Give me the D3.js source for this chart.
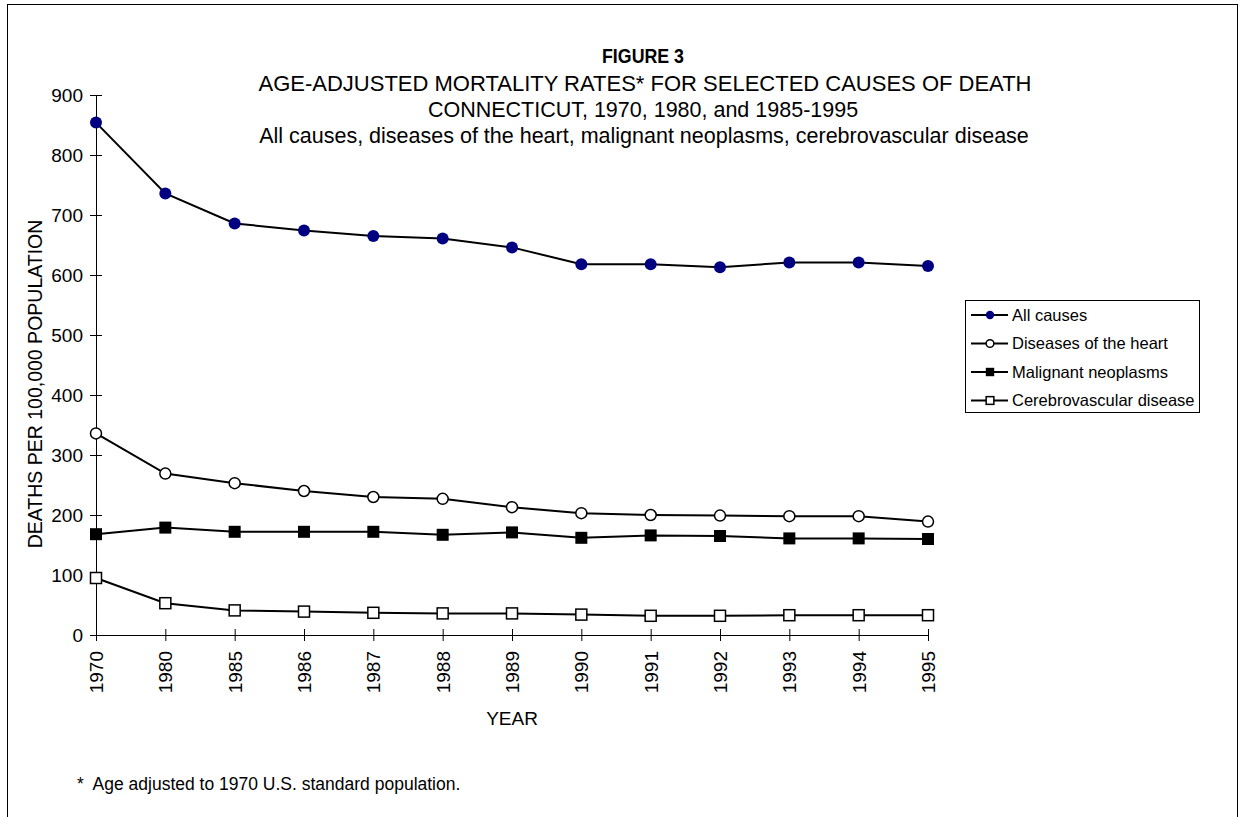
<!DOCTYPE html>
<html>
<head>
<meta charset="utf-8">
<script src="https://cdn.jsdelivr.net/npm/d3@7"></script>
<style>
  body { margin: 0; background: #fff; }
  svg text { font-family: "Liberation Sans", Arial, sans-serif; fill: #000; }
</style>
</head>
<body>
<svg id="chart"></svg>
<script>
var years = ["1970", "1980", "1985", "1986", "1987", "1988", "1989", "1990", "1991", "1992", "1993", "1994", "1995"];
var allCauses = [854, 736, 686, 674, 665, 661, 646, 618, 618, 613, 621, 621, 615];
var heart = [336, 269, 253, 240, 230, 227, 213, 203, 200, 199, 198, 198, 189];
var neoplasms = [168, 179, 172, 172, 172, 167, 171, 162, 166, 165, 161, 161, 160];
var cerebro = [95, 53, 41, 39, 37, 36, 36, 34, 32, 32, 33, 33, 33];
var seriesNames = ["All causes", "Diseases of the heart", "Malignant neoplasms", "Cerebrovascular disease"];
var yTicks = [0, 100, 200, 300, 400, 500, 600, 700, 800, 900];

var width = 1241, height = 817;
var margin = {top: 95, left: 96, right: 313, bottom: 182};

var svg = d3.select("#chart").attr("width", width).attr("height", height);

// page frame
svg.append("rect")
    .attr("x", 7.5).attr("y", 4.5)
    .attr("width", 1230).attr("height", 830)
    .attr("fill", "none").attr("stroke", "#000").attr("stroke-width", 1);

var x = d3.scalePoint().domain(years).range([margin.left, width - margin.right]);
var y = d3.scaleLinear().domain([0, 900]).range([height - margin.bottom, margin.top]);

// titles
var title = svg.append("g").attr("text-anchor", "middle");
title.append("text").attr("x", 643).attr("y", 63)
    .style("font-size", "21px").style("font-weight", "bold")
    .attr("textLength", 82).attr("lengthAdjust", "spacingAndGlyphs").text("FIGURE 3");
title.append("text").attr("x", 645).attr("y", 91)
    .style("font-size", "22px")
    .text("AGE-ADJUSTED MORTALITY RATES* FOR SELECTED CAUSES OF DEATH");
title.append("text").attr("x", 643).attr("y", 117)
    .style("font-size", "21.5px")
    .text("CONNECTICUT, 1970, 1980, and 1985-1995");
title.append("text").attr("x", 644).attr("y", 143)
    .style("font-size", "21.5px")
    .text("All causes, diseases of the heart, malignant neoplasms, cerebrovascular disease");

// axes
var yAxis = svg.append("g")
    .attr("transform", "translate(" + margin.left + ",0)")
    .call(d3.axisLeft(y).tickValues(yTicks).tickSizeInner(6).tickSizeOuter(0).tickPadding(7));
yAxis.selectAll(".tick line").attr("x1", 6);
yAxis.selectAll("text").style("font-size", "19px").attr("font-family", null);

var xAxis = svg.append("g")
    .attr("transform", "translate(0," + y(0) + ")")
    .call(d3.axisBottom(x).tickSizeInner(6).tickSizeOuter(0));
xAxis.selectAll(".tick line").attr("y1", -6);
xAxis.selectAll("text")
    .style("font-size", "19px").attr("font-family", null)
    .attr("text-anchor", "end")
    .attr("transform", "rotate(-90)")
    .attr("x", -16).attr("y", 0).attr("dy", "0.35em");
svg.selectAll(".domain").attr("stroke", "#000");

svg.append("text")
    .attr("transform", "translate(42," + 384 + ") rotate(-90)")
    .attr("text-anchor", "middle").style("font-size", "19.5px")
    .text("DEATHS PER 100,000 POPULATION");
svg.append("text")
    .attr("x", (x.range()[0] + x.range()[1]) / 2).attr("y", 725)
    .attr("text-anchor", "middle").style("font-size", "19px").text("YEAR");

svg.append("text").attr("x", 77).attr("y", 790)
    .style("font-size", "17.5px").style("white-space", "pre")
    .text("*  Age adjusted to 1970 U.S. standard population.");

// series
var series = [
  {name: seriesNames[0], values: allCauses, shape: "circle", fill: "#000080", size: 6},
  {name: seriesNames[1], values: heart, shape: "circle", fill: "#fff", size: 5.5},
  {name: seriesNames[2], values: neoplasms, shape: "square", fill: "#000", size: 12},
  {name: seriesNames[3], values: cerebro, shape: "square", fill: "#fff", size: 11}
];

var line = d3.line()
    .x(function(d, i) { return x(years[i]); })
    .y(function(d) { return y(d); });

function marker(g, s, cx, cy, scale) {
  if (s.shape === "circle") {
    g.append("circle").attr("cx", cx).attr("cy", cy).attr("r", s.size * scale)
      .attr("fill", s.fill)
      .attr("stroke", s.fill === "#fff" ? "#000" : s.fill)
      .attr("stroke-width", s.fill === "#fff" ? 1.5 : 0);
  } else {
    var w = s.size * scale;
    g.append("rect").attr("x", cx - w / 2).attr("y", cy - w / 2)
      .attr("width", w).attr("height", w)
      .attr("fill", s.fill).attr("stroke", "#000")
      .attr("stroke-width", s.fill === "#fff" ? 1.5 : 0);
  }
}

series.forEach(function(s) {
  svg.append("path")
      .datum(s.values)
      .attr("fill", "none").attr("stroke", "#000").attr("stroke-width", 2)
      .attr("d", line);
  var g = svg.append("g");
  s.values.forEach(function(v, i) { marker(g, s, x(years[i]), y(v), 1); });
});

// legend
var legend = svg.append("g").attr("transform", "translate(965,300)");
legend.append("rect").attr("x", 0.5).attr("y", 0.5).attr("width", 234).attr("height", 112)
    .attr("fill", "#fff").attr("stroke", "#000");
series.forEach(function(s, i) {
  var ly = 15 + i * 28.5;
  legend.append("line").attr("x1", 6).attr("x2", 43).attr("y1", ly).attr("y2", ly)
      .attr("stroke", "#000").attr("stroke-width", 2);
  marker(legend, s, 25, ly, 0.7);
  legend.append("text").attr("x", 47).attr("y", ly).attr("dy", "0.35em")
      .style("font-size", "16.5px").text(s.name);
});
</script>
</body>
</html>
